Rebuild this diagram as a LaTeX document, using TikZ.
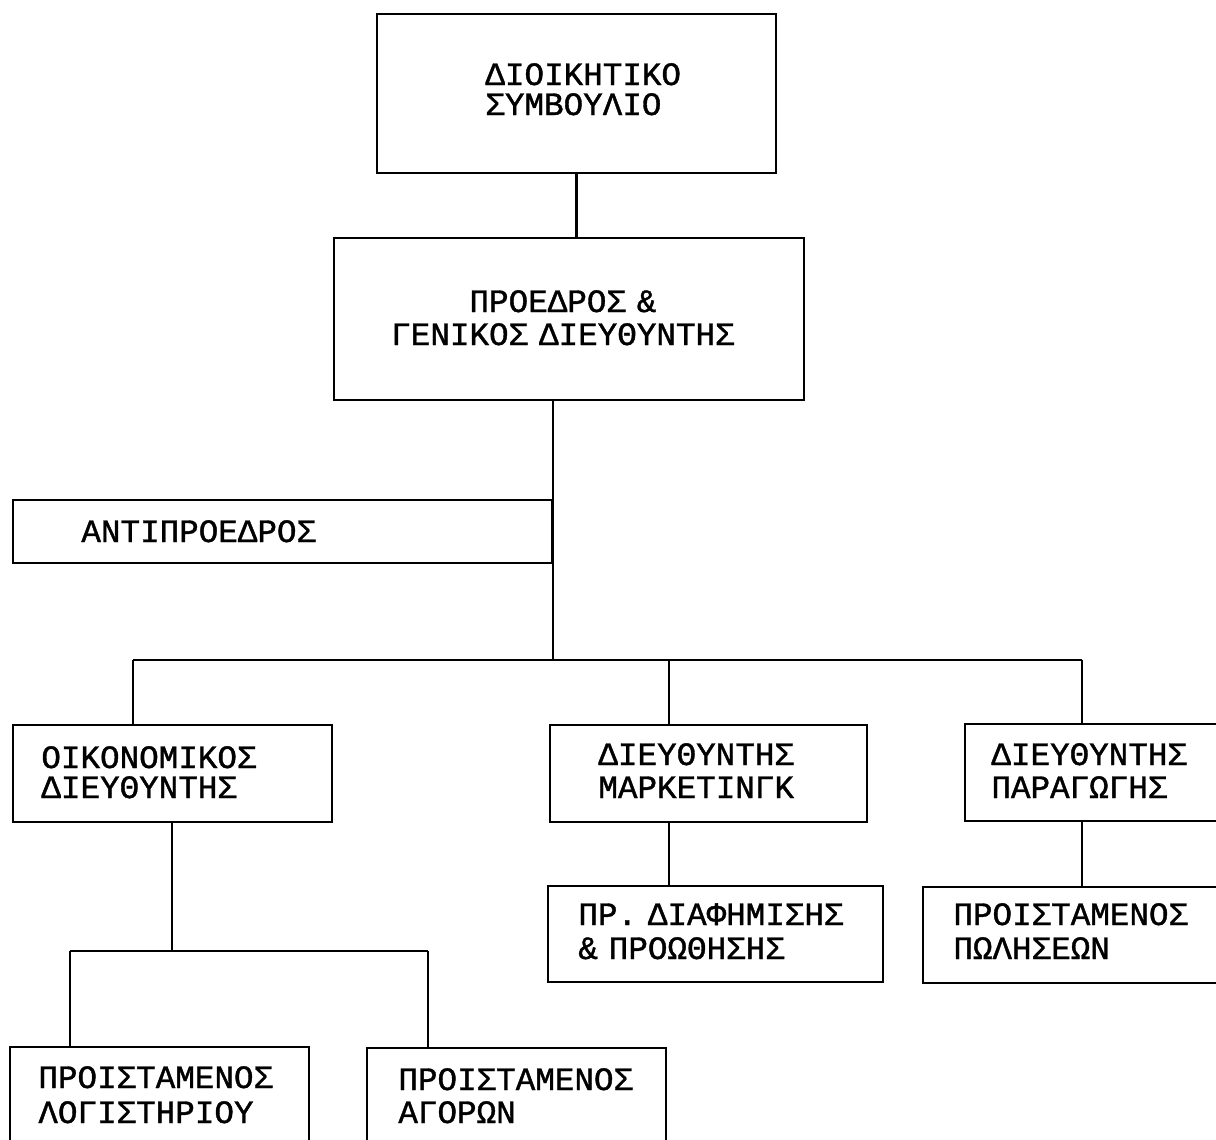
\documentclass[tikz,border=0pt]{standalone}
\usepackage{fontspec}
\newfontfamily\orgfont{Liberation Mono}[FakeBold=1.2]
\usetikzlibrary{fit}
\begin{document}
\begin{tikzpicture}[x=0.5pt,y=-0.5pt,
  box/.style={draw, line width=1.35pt, inner sep=0pt},
  wire/.style={line width=1.35pt},
  lbl/.style={font=\orgfont\fontsize{16.3pt}{#1}\selectfont, inner sep=0pt,
    text width=250pt, align=left, anchor=base west},
  clbl/.style={font=\orgfont\fontsize{16.3pt}{#1}\selectfont, inner sep=0pt,
    text width=250pt, align=center, anchor=base}
]
\useasboundingbox (0,0) rectangle (1216,1140);
\clip (0,0) rectangle (1216,1140);

% boxes
\node[box, fit={(377,14) (776,173)}]   (board) {};
\node[box, fit={(334,238) (804,400)}]  (pres)  {};
\node[box, fit={(13,500) (552,563)}]   (vice)  {};
\node[box, fit={(13,725) (332,822)}]   (fin)   {};
\node[box, fit={(550,725) (867,822)}]  (mkt)   {};
\node[box, fit={(965,724) (1240,821)}] (prod)  {};
\node[box, fit={(548,886) (883,982)}]  (adv)   {};
\node[box, fit={(923,887) (1240,983)}] (sales) {};
\node[box, fit={(10,1047) (309,1180)}] (acct)  {};
\node[box, fit={(367,1048) (666,1180)}] (buy)  {};

% labels
\node[lbl=15pt]   (board-t) at (485,85)  {ΔΙΟΙΚΗΤΙΚΟ\\ΣΥΜΒΟΥΛΙΟ};
\node[clbl=16.5pt] (pres-t) at (563,312) {ΠΡΟΕΔΡΟΣ \&\\ΓΕΝΙΚΟΣ ΔΙΕΥΘΥΝΤΗΣ};
\node[lbl=15pt]   (vice-t)  at (81,542)  {ΑΝΤΙΠΡΟΕΔΡΟΣ};
\node[lbl=15pt]   (fin-t)   at (41,768)  {ΟΙΚΟΝΟΜΙΚΟΣ\\ΔΙΕΥΘΥΝΤΗΣ};
\node[lbl=16.5pt] (mkt-t)   at (598,765) {ΔΙΕΥΘΥΝΤΗΣ\\ΜΑΡΚΕΤΙΝΓΚ};
\node[lbl=16.5pt] (prod-t)  at (991,765) {ΔΙΕΥΘΥΝΤΗΣ\\ΠΑΡΑΓΩΓΗΣ};
\node[lbl=17pt]   (adv-t)   at (578,925) {ΠΡ. ΔΙΑΦΗΜΙΣΗΣ\\\& ΠΡΟΩΘΗΣΗΣ};
\node[lbl=17pt]   (sales-t) at (953,925) {ΠΡΟΙΣΤΑΜΕΝΟΣ\\ΠΩΛΗΣΕΩΝ};
\node[lbl=17.5pt] (acct-t)  at (38,1088) {ΠΡΟΙΣΤΑΜΕΝΟΣ\\ΛΟΓΙΣΤΗΡΙΟΥ};
\node[lbl=16.5pt] (buy-t)   at (398,1090) {ΠΡΟΙΣΤΑΜΕΝΟΣ\\ΑΓΟΡΩΝ};

% junction points
\coordinate (trunk) at (553,660);
\coordinate (busL)  at (133,660);
\coordinate (busM)  at (669,660);
\coordinate (busR)  at (1082,660);
\coordinate (finbus) at (172,951);
\coordinate (finL)  at (70,951);
\coordinate (finR)  at (428,951);

% connectors
\draw[wire] (board.south) -- (board.south |- pres.north);
\draw[wire] (trunk |- pres.south) -- (trunk);
\draw[wire] (busL) -- (busR);
\draw[wire] (busL) -- (busL |- fin.north);
\draw[wire] (busM) -- (busM |- mkt.north);
\draw[wire] (busR) -- (busR |- prod.north);
\draw[wire] (finbus |- fin.south) -- (finbus);
\draw[wire] (finL) -- (finR);
\draw[wire] (finL) -- (finL |- acct.north);
\draw[wire] (finR) -- (finR |- buy.north);
\draw[wire] (busM |- mkt.south) -- (busM |- adv.north);
\draw[wire] (busR |- prod.south) -- (busR |- sales.north);
\end{tikzpicture}
\end{document}
